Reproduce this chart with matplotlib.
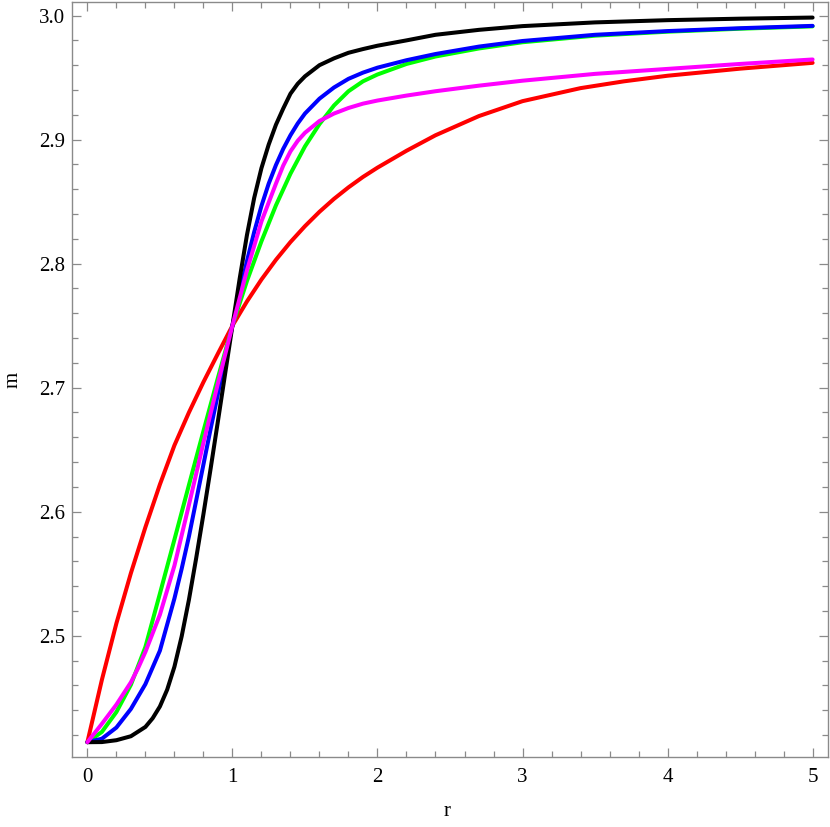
import matplotlib
matplotlib.use("Agg")
import matplotlib.pyplot as plt
from matplotlib.ticker import MultipleLocator

# ---- data ----
r_black = [0, 0.1, 0.2, 0.3, 0.4, 0.45, 0.5, 0.55, 0.6, 0.65, 0.7, 0.75, 0.8, 0.85, 0.9, 0.95,
           1.0, 1.05, 1.1, 1.15, 1.2, 1.25, 1.3, 1.35, 1.4, 1.45, 1.5, 1.6, 1.7, 1.8, 1.9, 2.0,
           2.2, 2.4, 2.7, 3.0, 3.5, 4.0, 4.5, 5.0]
m_black = [2.4142, 2.4143, 2.4158, 2.4190, 2.4265, 2.4335, 2.4430, 2.4565, 2.4750, 2.4995,
           2.5290, 2.5625, 2.5980, 2.6350, 2.6730, 2.7115, 2.7500, 2.7880, 2.8230, 2.8530,
           2.8770, 2.8960, 2.9120, 2.9250, 2.9370, 2.9450, 2.9510, 2.9600, 2.9655, 2.9700,
           2.9730, 2.9757, 2.9800, 2.9845, 2.9885, 2.9915, 2.9945, 2.9963, 2.9975, 2.9984]

r_blue = [0, 0.1, 0.2, 0.3, 0.4, 0.5, 0.6, 0.65, 0.7, 0.75, 0.8, 0.85, 0.9, 0.95, 1.0, 1.05,
          1.1, 1.15, 1.2, 1.25, 1.3, 1.35, 1.4, 1.45, 1.5, 1.6, 1.7, 1.8, 1.9, 2.0, 2.2, 2.4,
          2.7, 3.0, 3.5, 4.0, 4.5, 5.0]
m_blue = [2.4142, 2.4170, 2.4260, 2.4410, 2.4610, 2.4880, 2.5300, 2.5540, 2.5800, 2.6090,
          2.6380, 2.6670, 2.6950, 2.7230, 2.7500, 2.7765, 2.8020, 2.8255, 2.8465, 2.8645,
          2.8795, 2.8925, 2.9035, 2.9130, 2.9210, 2.9330, 2.9420, 2.9490, 2.9540, 2.9580,
          2.9640, 2.9690, 2.9750, 2.9795, 2.9845, 2.9875, 2.9898, 2.9917]

r_green = [0, 0.1, 0.2, 0.3, 0.4, 0.5, 0.6, 0.7, 0.8, 0.9, 1.0, 1.1, 1.2, 1.3, 1.4, 1.5, 1.6,
           1.7, 1.8, 1.9, 2.0, 2.2, 2.4, 2.7, 3.0, 3.5, 4.0, 4.5, 5.0]
m_green = [2.4142, 2.4225, 2.4385, 2.4605, 2.4910, 2.5340, 2.5775, 2.6215, 2.6650, 2.7080,
           2.7500, 2.7860, 2.8180, 2.8470, 2.8725, 2.8945, 2.9125, 2.9275, 2.9390, 2.9470,
           2.9525, 2.9610, 2.9670, 2.9735, 2.9785, 2.9838, 2.9870, 2.9894, 2.9913]

r_magenta = [0, 0.1, 0.2, 0.3, 0.35, 0.4, 0.5, 0.6, 0.7, 0.8, 0.9, 1.0, 1.1, 1.2, 1.3, 1.35,
             1.4, 1.45, 1.5, 1.6, 1.7, 1.8, 1.9, 2.0, 2.2, 2.4, 2.7, 3.0, 3.5, 4.0, 4.5, 5.0]
m_magenta = [2.4142, 2.4290, 2.4445, 2.4625, 2.4740, 2.4870, 2.5170, 2.5565, 2.6055, 2.6555,
             2.7035, 2.7500, 2.7945, 2.8340, 2.8645, 2.8790, 2.8905, 2.8990, 2.9055, 2.9150,
             2.9210, 2.9255, 2.9290, 2.9315, 2.9355, 2.9390, 2.9435, 2.9475, 2.9530, 2.9570,
             2.9610, 2.9646]

r_red = [0, 0.1, 0.2, 0.3, 0.4, 0.5, 0.6, 0.7, 0.8, 0.9, 1.0, 1.1, 1.2, 1.3, 1.4, 1.5, 1.6,
         1.7, 1.8, 1.9, 2.0, 2.2, 2.4, 2.7, 3.0, 3.4, 3.7, 4.0, 4.5, 5.0]
m_red = [2.4142, 2.4645, 2.5100, 2.5505, 2.5875, 2.6220, 2.6535, 2.6800, 2.7045, 2.7275,
         2.7500, 2.7695, 2.7872, 2.8031, 2.8174, 2.8302, 2.8418, 2.8522, 2.8615, 2.8699,
         2.8774, 2.8910, 2.9035, 2.9190, 2.9310, 2.9415, 2.9470, 2.9515, 2.9572, 2.9619]

x_ticks = [0, 1, 2, 3, 4, 5]
y_ticks = [2.5, 2.6, 2.7, 2.8, 2.9, 3.0]
x_label = "r"
y_label = "m"

# ---- drawing ----
plt.rcParams['font.family'] = ['Liberation Serif', 'DejaVu Serif']
fig = plt.figure(figsize=(8.30, 8.27), dpi=100)
ax = fig.add_axes([72.3 / 830, 1 - 756.7 / 827, (827.7 - 72.3) / 830, (756.7 - 2.3) / 827])

lw = 2.9
kw = dict(lw=lw, solid_capstyle='round', solid_joinstyle='round')
ax.plot(r_red, m_red, color='#ff0000', **kw)
ax.plot(r_green, m_green, color='#00ff00', **kw)
ax.plot(r_blue, m_blue, color='#0000ff', **kw)
ax.plot(r_black, m_black, color='#000000', **kw)
ax.plot(r_magenta, m_magenta, color='#ff00ff', **kw)

ax.set_xlim(-0.104, 5.104)
ax.set_ylim(2.4025, 3.0107)
ax.set_xticks(x_ticks)
ax.set_xticklabels([str(t) for t in x_ticks])
ax.set_yticks(y_ticks)
ax.set_yticklabels([f"{t:.1f}" for t in y_ticks])
ax.xaxis.set_minor_locator(MultipleLocator(0.2))
ax.yaxis.set_minor_locator(MultipleLocator(0.02))

gray = '#8a8a8a'
for s in ax.spines.values():
    s.set_color(gray)
    s.set_linewidth(1.0)
ax.tick_params(which='both', direction='in', top=True, right=True, color=gray, width=0.9,
               labelsize=15, labelcolor='black')
ax.tick_params(which='major', length=6.7)
ax.tick_params(which='minor', length=4.2)
ax.tick_params(axis='y', pad=5)
ax.tick_params(axis='x', pad=8)

fig.text(447 / 830, 1 - 812 / 827, x_label, ha='center', va='center', fontsize=15)
fig.text(13 / 830, 1 - 380 / 827, y_label, ha='center', va='center', fontsize=15, rotation=90)

fig.savefig("out.png", dpi=100)
